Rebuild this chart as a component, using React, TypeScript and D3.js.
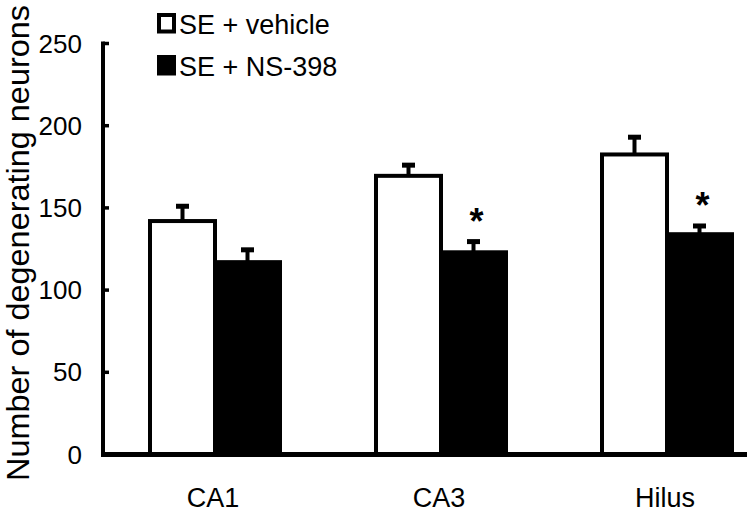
import React from "react";
import * as d3 from "d3";

const categories = ["CA1", "CA3", "Hilus"];
const vehicleMeans = [142, 169.5, 182.5];
const vehicleErrors = [9, 6.5, 10.5];
const ns398Means = [117, 123, 134];
const ns398Errors = [7.5, 6.5, 5];
const significant = [false, true, true];
const yTicks = [0, 50, 100, 150, 200, 250];
const seriesNames = ["SE + vehicle", "SE + NS-398"];
const yLabel = "Number of degenerating neurons";

const W = 750;
const H = 512;
const FONT = "'Liberation Sans', Arial, sans-serif";

export default function App() {
  const y = d3.scaleLinear().domain([0, 250]).range([454.5, 43.5]);
  const x = d3.scaleBand<string>().domain(categories).range([102, 780]).padding(0);
  const barW = 65;

  const series = [
    { means: vehicleMeans, errs: vehicleErrors, fill: "#fff", offset: -barW },
    { means: ns398Means, errs: ns398Errors, fill: "#000", offset: 0 },
  ];

  return (
    <svg
      width={W}
      height={H}
      style={{ position: "absolute", left: 0, top: 0, background: "#fff" }}
      fontFamily={FONT}
    >
      <rect x={0} y={0} width={W} height={H} fill="#fff" />
      {/* bars */}
      {series.map((s, si) =>
        categories.map((c, i) => {
          const cx = (x(c) as number) + x.bandwidth() / 2;
          const bx = cx + s.offset;
          const top = y(s.means[i]);
          const errTop = y(s.means[i] + s.errs[i]);
          const mid = bx + barW / 2;
          return (
            <g key={`${si}-${c}`}>
              <line x1={mid} x2={mid} y1={top} y2={errTop} stroke="#000" strokeWidth={4} />
              <rect x={mid - 6.5} y={errTop - 2.5} width={13} height={5} fill="#000" />
              <rect
                x={bx}
                y={top}
                width={barW}
                height={y(0) - top}
                fill={s.fill}
                stroke="#000"
                strokeWidth={4}
              />
            </g>
          );
        })
      )}
      {/* asterisks */}
      {categories.map((c, i) => {
        if (!significant[i]) return null;
        const cx = (x(c) as number) + x.bandwidth() / 2 + barW / 2 + 3;
        const yy = y(ns398Means[i] + ns398Errors[i]) - 8;
        return (
          <text key={`ast-${c}`} x={cx} y={yy} textAnchor="middle" fontSize={36} fontWeight="bold">
            *
          </text>
        );
      })}
      {/* y axis */}
      <line x1={103} x2={103} y1={y(250) - 2} y2={y(0) + 2} stroke="#000" strokeWidth={4} />
      {yTicks.map((t) => (
        <g key={`t-${t}`}>
          <line x1={103} x2={109} y1={y(t)} y2={y(t)} stroke="#000" strokeWidth={3.5} />
          <text x={82} y={y(t)} dy="0.35em" textAnchor="end" fontSize={26}>
            {t}
          </text>
        </g>
      ))}
      {/* x axis baseline */}
      <line x1={101} x2={747} y1={y(0)} y2={y(0)} stroke="#000" strokeWidth={5} />
      {categories.map((c) => (
        <text
          key={`c-${c}`}
          x={(x(c) as number) + x.bandwidth() / 2 - 2}
          y={507}
          textAnchor="middle"
          fontSize={27}
        >
          {c}
        </text>
      ))}
      {/* y label */}
      <text
        transform={`translate(29, 243) rotate(-90)`}
        textAnchor="middle"
        fontSize={31}
        textLength={476}
        lengthAdjust="spacingAndGlyphs"
      >
        {yLabel}
      </text>
      {/* legend */}
      {seriesNames.map((n, i) => (
        <g key={`lg-${n}`} transform={`translate(0, ${i * 42})`}>
          <rect
            x={159}
            y={15}
            width={15}
            height={16.5}
            fill={i === 0 ? "#fff" : "#000"}
            stroke="#000"
            strokeWidth={4}
          />
          <text x={179} y={34} fontSize={27}>
            {n}
          </text>
        </g>
      ))}
    </svg>
  );
}
